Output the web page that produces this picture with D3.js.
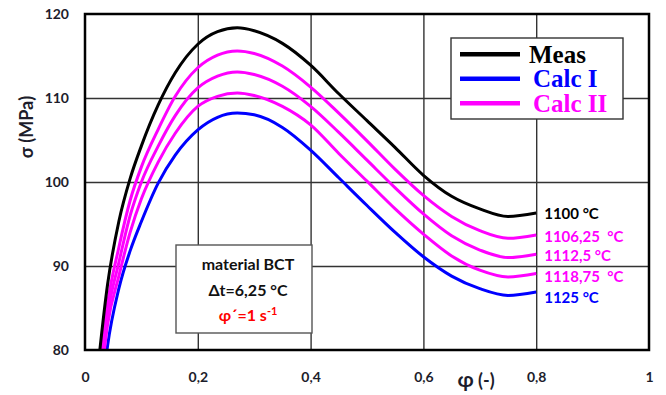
<!DOCTYPE html>
<html>
<head>
<meta charset="utf-8">
<script src="https://cdn.jsdelivr.net/npm/d3@7/dist/d3.min.js"></script>
<style>
  html, body { margin: 0; padding: 0; background: #fff; }
  svg { display: block; }
  text { font-family: Lato, "Open Sans", "DejaVu Sans", sans-serif; font-weight: bold; }
  text.serif { font-family: "Liberation Serif", "Times New Roman", serif; }
</style>
</head>
<body>
<svg id="chart" width="666" height="395"></svg>
<script>
// Strain values (φ) at which the flow curves are sampled
const phi = [0.02, 0.04, 0.06, 0.08, 0.1, 0.13, 0.16, 0.2, 0.235, 0.27, 0.3, 0.35, 0.4, 0.45, 0.5, 0.55, 0.6, 0.65, 0.7, 0.75, 0.8];

// Flow stress σ (MPa) for each temperature
const meas1100   = [76, 87.8, 95.3, 100.4, 104.3, 109.2, 113.0, 116.4, 117.9, 118.35, 118.0, 116.5, 113.9, 110.5, 107.3, 104.1, 100.8, 98.3, 96.8, 95.9, 96.3];
const calc110625 = [73.5, 85.5, 92.2, 97.8, 101.8, 106.3, 110.2, 113.6, 115.1, 115.6, 115.3, 113.8, 111.3, 108.2, 104.9, 101.5, 98.4, 95.9, 94.2, 93.3, 93.7];
const calc11125  = [72, 84.2, 90.4, 96.0, 100.0, 104.3, 107.9, 111.2, 112.6, 113.1, 112.8, 111.4, 109.0, 105.9, 102.6, 99.3, 96.2, 93.6, 91.9, 91.0, 91.4];
const calc111875 = [70.5, 83.0, 88.8, 94.0, 98.0, 102.4, 105.8, 109.0, 110.2, 110.6, 110.3, 109.0, 106.8, 103.4, 100.1, 96.8, 93.8, 91.2, 89.5, 88.7, 89.1];
const calc1125   = [68, 80.5, 87.3, 91.8, 95.3, 99.9, 103.2, 106.2, 107.7, 108.2, 108.0, 106.5, 103.8, 100.5, 97.2, 94.0, 91.1, 88.8, 87.3, 86.5, 86.9];

const tempLabels = ["1100 °C", "1106,25  °C", "1112,5 °C", "1118,75  °C", "1125 °C"];
const legendNames = ["Meas", "Calc I", "Calc II"];

const xTicks = [0, 0.2, 0.4, 0.6, 0.8, 1];
const xTickLabels = ["0", "0,2", "0,4", "0,6", "0,8", "1"];
const yTicks = [80, 90, 100, 110, 120];
const yTickLabels = ["80", "90", "100", "110", "120"];

const BLACK = "#000000", BLUE = "#0000ff", MAGENTA = "#ff00ff";

const series = [
  { values: calc1125,   color: BLUE,    label: tempLabels[4], dy: 11 },
  { values: calc111875, color: MAGENTA, label: tempLabels[3], dy: 8 },
  { values: calc11125,  color: MAGENTA, label: tempLabels[2], dy: 7 },
  { values: calc110625, color: MAGENTA, label: tempLabels[1], dy: 7.5 },
  { values: meas1100,   color: BLACK,   label: tempLabels[0], dy: 5.5 }
];

const svg = d3.select("#chart");
const plotLeft = 85, plotRight = 649, plotTop = 14, plotBottom = 350;

const x = d3.scaleLinear().domain([0, 1]).range([plotLeft, plotRight]);
const y = d3.scaleLinear().domain([80, 120]).range([plotBottom, plotTop]);

// Grid lines
const gridX = svg.append("g")
  .attr("transform", `translate(0,${plotBottom})`)
  .call(d3.axisBottom(x).tickValues(xTicks.slice(1, -1)).tickSize(-(plotBottom - plotTop)).tickFormat(""));
const gridY = svg.append("g")
  .attr("transform", `translate(${plotLeft},0)`)
  .call(d3.axisLeft(y).tickValues(yTicks.slice(1, -1)).tickSize(-(plotRight - plotLeft)).tickFormat(""));
[gridX, gridY].forEach(g => {
  g.select(".domain").remove();
  g.selectAll("line").attr("stroke", "#333").attr("stroke-width", 1.4);
});

// Tick labels
const xAxis = svg.append("g")
  .attr("transform", `translate(0,${plotBottom})`)
  .call(d3.axisBottom(x).tickValues(xTicks).tickSize(0).tickPadding(22)
    .tickFormat((d, i) => xTickLabels[i]));
const yAxis = svg.append("g")
  .attr("transform", `translate(${plotLeft},0)`)
  .call(d3.axisLeft(y).tickValues(yTicks).tickSize(0).tickPadding(16)
    .tickFormat((d, i) => yTickLabels[i]));
[xAxis, yAxis].forEach(g => {
  g.select(".domain").remove();
  g.selectAll("text").attr("font-size", 14).attr("fill", "#1d1d2b");
});

// Curves
svg.append("defs").append("clipPath").attr("id", "plotClip")
  .append("rect").attr("x", plotLeft).attr("y", plotTop)
  .attr("width", plotRight - plotLeft).attr("height", plotBottom - plotTop);

const line = d3.line()
  .x((d, i) => x(phi[i]))
  .y(d => y(d))
  .curve(d3.curveMonotoneX);

const curves = svg.append("g").attr("clip-path", "url(#plotClip)");
series.forEach(s => {
  curves.append("path")
    .attr("d", line(s.values))
    .attr("fill", "none")
    .attr("stroke", s.color)
    .attr("stroke-width", 3)
    .attr("stroke-linejoin", "round");
});

// Temperature labels at the curve ends
series.forEach(s => {
  svg.append("text")
    .attr("x", x(phi[phi.length - 1]) + 8)
    .attr("y", y(s.values[s.values.length - 1]) + s.dy)
    .attr("fill", s.color)
    .attr("font-size", 15)
    .style("white-space", "pre")
    .text(s.label);
});

// Legend
const legend = svg.append("g");
legend.append("rect")
  .attr("x", 451).attr("y", 38).attr("width", 172).attr("height", 81)
  .attr("fill", "#fff").attr("stroke", "#333").attr("stroke-width", 1.4);
const legendColors = [BLACK, BLUE, MAGENTA];
legendNames.forEach((name, i) => {
  const cy = 54.3 + i * 24.5;
  legend.append("line")
    .attr("x1", 460).attr("x2", 520).attr("y1", cy).attr("y2", cy)
    .attr("stroke", legendColors[i]).attr("stroke-width", 4.5);
  legend.append("text")
    .attr("class", "serif")
    .attr("x", i === 0 ? 529 : 533).attr("y", cy + 8.5)
    .attr("fill", legendColors[i])
    .attr("font-size", 25)
    .text(name);
});

// Annotation box
const note = svg.append("g");
note.append("rect")
  .attr("x", 176).attr("y", 245).attr("width", 136).attr("height", 88)
  .attr("fill", "#fff").attr("stroke", "#555").attr("stroke-width", 1.4);
note.append("text").attr("x", 248).attr("y", 269.5).attr("text-anchor", "middle")
  .attr("font-size", 16).attr("fill", "#111").text("material BCT");
note.append("text").attr("x", 248).attr("y", 295.5).attr("text-anchor", "middle")
  .attr("font-size", 16).attr("fill", "#111").text("Δt=6,25 °C");
const rate = note.append("text").attr("x", 248).attr("y", 320.5).attr("text-anchor", "middle")
  .attr("font-size", 16).attr("fill", "#ff0000");
rate.append("tspan").text("φ´=1 s");
rate.append("tspan").attr("dy", -6).attr("font-size", 11).text("-1");

// Plot border
svg.append("rect")
  .attr("x", plotLeft).attr("y", plotTop)
  .attr("width", plotRight - plotLeft).attr("height", plotBottom - plotTop)
  .attr("fill", "none").attr("stroke", "#000").attr("stroke-width", 2.5);

// Axis titles
svg.append("text")
  .attr("transform", `translate(33,127) rotate(-90)`)
  .attr("text-anchor", "middle")
  .attr("font-size", 18).attr("fill", "#1d1d2b")
  .text("σ (MPa)");
const xTitle = svg.append("text")
  .attr("x", 476).attr("y", 387)
  .attr("text-anchor", "middle")
  .attr("font-size", 18).attr("fill", "#1d1d2b");
xTitle.append("tspan").attr("font-size", 21).text("φ");
xTitle.append("tspan").text(" (-)");
</script>
</body>
</html>
